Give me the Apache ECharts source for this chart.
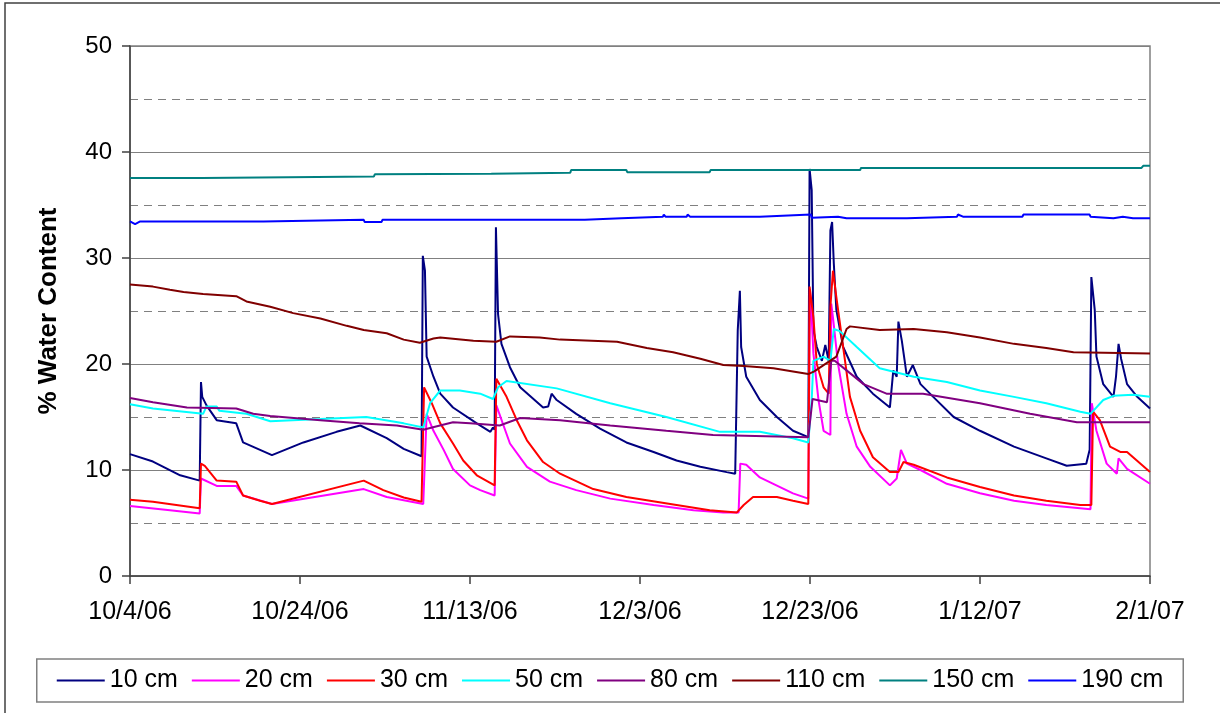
<!DOCTYPE html>
<html>
<head>
<meta charset="utf-8">
<script src="https://cdn.jsdelivr.net/npm/echarts@6/dist/echarts.min.js"></script>
<style>
  html, body { margin: 0; padding: 0; background: #fff; }
  #chart { width: 1220px; height: 713px; }
</style>
</head>
<body>
<div id="chart"></div>
<script>
// x values are days since 10/4/06
const xTickLabels = ['10/4/06', '10/24/06', '11/13/06', '12/3/06', '12/23/06', '1/12/07', '2/1/07']
const seriesNames = ['10 cm', '20 cm', '30 cm', '50 cm', '80 cm', '110 cm', '150 cm', '190 cm']
const seriesColors = ['#000080', '#FF00FF', '#FF0000', '#00FFFF', '#800080', '#800000', '#008080', '#0000FF']

const s10 = [[0,11.5],[2.7,10.8],[5.9,9.5],[8.2,9.0],[8.35,18.3],[8.5,16.9],[9.0,16.1],[10.2,14.7],[12.5,14.4],[13.3,12.6],[15.3,11.9],[16.7,11.4],[20.4,12.6],[24.3,13.6],[27.1,14.2],[30.2,13.0],[32.2,12.0],[34.3,11.3],[34.45,30.2],[34.7,28.8],[34.9,20.7],[35.7,18.8],[36.5,17.2],[38.0,15.9],[40.8,14.4],[42.4,13.6],[42.7,14.0],[42.9,13.8],[43.05,32.9],[43.3,24.7],[43.7,21.9],[44.7,19.7],[45.9,17.8],[48.6,15.9],[49.2,16.0],[49.6,17.2],[50.2,16.6],[52.5,15.3],[55.3,13.9],[58.4,12.6],[61.6,11.7],[64.3,10.9],[67.1,10.3],[70.2,9.8],[71.2,9.65],[71.5,23.2],[71.75,26.9],[71.9,21.6],[72.5,18.8],[74.1,16.6],[76.1,15.0],[78,13.7],[79.8,13.1],[79.95,38.4],[80.2,36.4],[80.4,23.2],[80.8,21.6],[81.4,20.3],[81.8,21.8],[82.2,20.3],[82.4,32.6],[82.6,33.4],[82.8,29.5],[83.1,25.1],[83.9,21.6],[85.5,18.8],[87.4,17.2],[89.4,15.9],[89.8,19.4],[90.2,18.8],[90.4,24.0],[90.8,22.2],[91.4,18.8],[92.1,19.9],[93,18.1],[94.5,16.9],[96.9,15.0],[100,13.7],[104,12.2],[107.8,11.1],[110.2,10.4],[112.5,10.6],[112.9,11.9],[113.1,28.2],[113.5,25.1],[113.7,20.7],[114.5,18.1],[115.7,16.9],[116,18.8],[116.3,21.9],[116.6,20.5],[117.3,18.1],[118.5,16.9],[120,15.8]]
const s20 = [[0,6.6],[4.7,6.2],[8.2,5.9],[8.35,9.2],[10.2,8.5],[12.5,8.5],[13.3,7.6],[16.7,6.8],[27.5,8.2],[30.2,7.45],[34.5,6.8],[34.9,15.3],[35.7,13.7],[36.9,11.9],[38,10.1],[40,8.55],[41.2,8.1],[42.9,7.6],[43.1,16.1],[44.7,12.5],[46.7,10.3],[49.4,8.9],[52.5,8.1],[56.5,7.3],[61.6,6.7],[66.3,6.2],[69.8,6.0],[71.6,6.0],[71.8,10.6],[72.5,10.5],[74.1,9.3],[78,7.8],[79.8,7.3],[80,26.9],[80.2,24.4],[80.4,21.0],[81,16.6],[81.6,13.7],[82.4,13.3],[82.5,25.7],[82.7,24.4],[83.3,20.0],[84.3,15.3],[85.5,12.2],[87.1,10.3],[89.4,8.55],[90.2,9.2],[90.7,11.9],[91.4,10.6],[93,10.0],[96.1,8.7],[100,7.8],[104,7.1],[107.8,6.7],[113,6.3],[113.15,16.3],[113.7,13.7],[114.9,10.6],[116.1,9.65],[116.3,11.1],[117.3,10.1],[120,8.7]]
const s30 = [[0,7.2],[2.7,7.0],[8.2,6.4],[8.35,10.6],[8.8,10.4],[10.2,9.0],[12.5,8.9],[13.3,7.6],[15.3,7.1],[16.7,6.8],[27.5,9.0],[29.8,8.1],[32.2,7.4],[34.3,7.0],[34.6,17.8],[35.5,16.3],[36.5,14.4],[38,12.5],[39.2,10.9],[40.8,9.5],[42.9,8.55],[43.1,18.6],[44.3,16.9],[45.5,14.7],[46.7,12.8],[48.6,10.75],[50.6,9.65],[54.5,8.2],[58.4,7.45],[64.3,6.7],[68.2,6.2],[71.4,6.0],[72.2,6.7],[73.3,7.45],[76.1,7.45],[78,7.1],[79.8,6.8],[79.95,27.3],[80.4,24.4],[80.8,20.0],[81.6,17.8],[82.2,17.2],[82.4,25.4],[82.7,28.8],[83.1,26.3],[83.9,21.6],[84.7,16.9],[85.9,13.7],[87.4,11.2],[89.4,9.8],[90.4,9.8],[91,10.75],[92.2,10.5],[96.1,9.3],[100,8.4],[104,7.6],[107.8,7.1],[111.8,6.7],[113.1,6.7],[113.3,15.5],[114.1,14.7],[115.3,12.2],[116.5,11.7],[117.3,11.7],[120,9.8]]
const s50 = [[0,16.2],[2.7,15.8],[8.6,15.3],[9.0,16.0],[10.2,16.0],[10.5,15.6],[13.7,15.3],[16.5,14.6],[22.4,14.8],[27.8,15.0],[32.2,14.4],[34.5,14.0],[35.3,16.3],[36.5,17.5],[38.8,17.5],[41.2,17.2],[42.7,16.7],[43.3,17.8],[44.3,18.4],[50.2,17.7],[56.5,16.3],[63.1,15.0],[69.4,13.6],[74.1,13.6],[78,13.0],[79.8,12.6],[80.2,16.6],[80.4,20.3],[81.6,20.7],[82.4,20.3],[82.8,23.3],[83.5,23.1],[85.5,21.6],[88.2,19.6],[92.2,18.8],[96.1,18.3],[100,17.5],[104,16.9],[107.8,16.3],[111.8,15.5],[113,15.3],[114.5,16.6],[115.7,17.0],[118,17.1],[120,16.9]]
const s80 = [[0,16.8],[2.7,16.4],[6.7,15.9],[12.5,15.8],[14.5,15.3],[16.5,15.1],[22.4,14.7],[27,14.4],[31.4,14.2],[34.5,13.8],[36,14.1],[38,14.5],[40,14.4],[43.5,14.2],[45.9,14.9],[50.6,14.7],[56.5,14.2],[63.1,13.7],[68.6,13.3],[79.8,13.1],[80.3,16.7],[82,16.4],[82.5,20.3],[82.9,20.3],[84.3,19.4],[86.3,18.1],[89,17.2],[93.3,17.2],[100,16.3],[105.9,15.3],[111.4,14.5],[120,14.5]]
const s110 = [[0,27.5],[2.7,27.3],[4.7,27.0],[6.3,26.8],[8.6,26.6],[12.5,26.4],[13.7,25.9],[16.5,25.4],[19.2,24.8],[22.4,24.3],[25.5,23.6],[27.5,23.2],[30.2,22.9],[32.2,22.3],[34.1,22.0],[35.7,22.4],[36.5,22.5],[40.4,22.2],[43.1,22.1],[44.7,22.6],[48.2,22.5],[50.6,22.3],[57.3,22.1],[60.8,21.5],[63.9,21.1],[67.1,20.5],[69.8,19.9],[72.2,19.8],[75.7,19.6],[78,19.3],[79.8,19.05],[80.5,19.3],[81.6,19.9],[83.1,20.7],[84.3,23.3],[84.7,23.55],[88.2,23.2],[92.2,23.3],[96.1,23.0],[100,22.5],[104,21.9],[107.8,21.5],[111,21.1],[120,21.0]]
const s150 = [[0,37.55],[8.5,37.55],[8.6,37.7],[28.7,37.7],[28.8,37.9],[42.5,37.95],[42.6,38.05],[51.8,38.05],[51.9,38.3],[58.4,38.3],[58.5,38.1],[68.2,38.1],[68.3,38.3],[85.9,38.3],[86,38.5],[119,38.5],[119.2,38.7],[120,38.7]]
const s190 = [[0,33.45],[0.6,33.2],[1.2,33.45],[15.7,33.45],[15.8,33.6],[27.5,33.6],[27.6,33.4],[29.6,33.4],[29.7,33.6],[43.2,33.6],[43.3,33.45],[43.6,33.6],[53.5,33.6],[53.6,33.75],[57.8,33.75],[57.9,33.9],[62.7,33.9],[62.8,34.1],[63,33.9],[65.5,33.9],[65.6,34.1],[65.9,33.9],[74.1,33.9],[74.2,34.05],[80.1,34.1],[80.2,33.8],[83.3,33.9],[84.3,33.75],[91.4,33.75],[91.5,33.9],[97.3,33.9],[97.4,34.1],[98,33.9],[105,33.9],[105.1,34.1],[112.9,34.1],[113,33.9],[115.7,33.75],[116.8,33.9],[118,33.75],[120,33.75]]

const seriesData = [s10, s20, s30, s50, s80, s110, s150, s190]

const chart = echarts.init(document.getElementById('chart'))
const font = '"Liberation Sans", Arial, sans-serif'

const option = {
  animation: false,
  backgroundColor: '#fff',
  textStyle: { fontFamily: font },
  graphic: [
    {
      type: 'rect',
      silent: true,
      shape: { x: 5, y: 3, width: 1240, height: 740 },
      style: { fill: 'none', stroke: '#404040', lineWidth: 1.5 },
    },
  ],
  grid: {
    left: 130,
    right: 70,
    top: 46,
    bottom: 137,
    show: true,
    borderColor: '#808080',
    borderWidth: 1.5,
  },
  legend: {
    top: 659,
    left: 'center',
    icon: 'rect',
    itemWidth: 48,
    itemHeight: 2,
    itemGap: 14,
    padding: [9, 20],
    borderColor: '#808080',
    borderWidth: 1.5,
    textStyle: { fontSize: 25, color: '#000', fontFamily: font },
    data: seriesNames,
  },
  xAxis: {
    type: 'value',
    min: 0,
    max: 120,
    interval: 20,
    axisLine: { lineStyle: { color: '#404040', width: 1.5 } },
    axisTick: { show: true, length: 8, lineStyle: { color: '#404040', width: 1.5 } },
    axisLabel: {
      margin: 24,
      fontSize: 25,
      color: '#000',
      formatter: (v) => xTickLabels[Math.round(v / 20)],
    },
    splitLine: { show: false },
  },
  yAxis: {
    type: 'value',
    min: 0,
    max: 50,
    interval: 10,
    name: '% Water Content',
    nameLocation: 'middle',
    nameRotate: 90,
    nameGap: 68,
    nameTextStyle: { fontSize: 26, fontWeight: 'bold', color: '#000', fontFamily: font },
    axisLine: { show: true, lineStyle: { color: '#404040', width: 1.5 } },
    axisTick: { show: true, length: 8, lineStyle: { color: '#404040', width: 1.5 } },
    axisLabel: { margin: 18, fontSize: 24, color: '#000' },
    splitLine: { show: true, lineStyle: { color: '#808080', width: 1.2 } },
    minorTick: { show: false, splitNumber: 2 },
    minorSplitLine: { show: true, lineStyle: { color: '#808080', width: 1.2, type: [8, 6] } },
  },
  series: seriesNames.map((name, i) => ({
    name,
    type: 'line',
    data: seriesData[i],
    symbol: 'none',
    lineStyle: { color: seriesColors[i], width: 2 },
    itemStyle: { color: seriesColors[i] },
  })),
}

chart.setOption(option)
</script>
</body>
</html>
